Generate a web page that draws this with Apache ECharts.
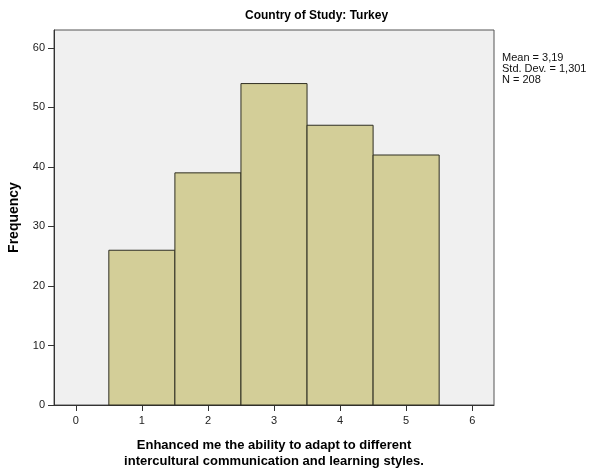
<!DOCTYPE html>
<html>
<head>
<meta charset="utf-8">
<script src="https://cdn.jsdelivr.net/npm/echarts@6/dist/echarts.min.js"></script>
<style>html,body{margin:0;padding:0;background:#fff;}#c{width:590px;height:471px;}</style>
</head>
<body>
<div id="c"></div>
<script>
var categories = [1, 2, 3, 4, 5];
var frequencies = [26, 39, 54, 47, 42];
var xTicks = [0, 1, 2, 3, 4, 5, 6];
var yTicks = [0, 10, 20, 30, 40, 50, 60];
var titleText = 'Country of Study: Turkey';
var statsLines = ['Mean = 3,19', 'Std. Dev. = 1,301', 'N = 208'];
var xName = 'Enhanced me the ability to adapt to different\nintercultural communication and learning styles.';
var yName = 'Frequency';

var data = categories.map(function (c, i) { return [c, frequencies[i]]; });
var font = '"Liberation Sans", Arial, sans-serif';

var chart = echarts.init(document.getElementById('c'));
chart.setOption({
  animation: false,
  backgroundColor: '#ffffff',
  grid: {
    left: 54, top: 30, right: 96, bottom: 66,
    outerBoundsMode: 'none', containLabel: false,
    show: true, backgroundColor: '#f0f0f0', borderColor: '#555555', borderWidth: 1
  },
  xAxis: {
    type: 'value', min: -0.33, max: 6.33,
    name: xName, nameLocation: 'middle', nameGap: 32,
    nameTextStyle: { fontFamily: font, fontSize: 13, fontWeight: 'bold', color: '#000', lineHeight: 16 },
    axisLine: { show: true, onZero: false, lineStyle: { color: '#333', width: 1 } },
    axisTick: { show: true, length: 6, inside: false, customValues: xTicks, lineStyle: { color: '#333' } },
    axisLabel: { customValues: xTicks, fontFamily: font, fontSize: 11, color: '#222', margin: 10 },
    splitLine: { show: false }
  },
  yAxis: {
    type: 'value', min: 0, max: 63,
    name: yName, nameLocation: 'middle', nameGap: 33, nameRotate: 90,
    nameTextStyle: { fontFamily: font, fontSize: 14, fontWeight: 'bold', color: '#000' },
    axisLine: { show: true, onZero: false, lineStyle: { color: '#333', width: 1 } },
    axisTick: { show: true, length: 6, inside: false, customValues: yTicks, lineStyle: { color: '#333' } },
    axisLabel: { customValues: yTicks, fontFamily: font, fontSize: 11, color: '#222', margin: 9 },
    splitLine: { show: false }
  },
  graphic: [
    { type: 'text', left: 245, top: 10, style: { text: titleText, font: 'bold 12px ' + font, fill: '#000' } },
    { type: 'text', left: 502, top: 52, style: { text: statsLines.join('\n'), font: '11px ' + font, fill: '#111', lineHeight: 11 } }
  ],
  series: [{
    type: 'custom',
    data: data,
    renderItem: function (params, api) {
      var x = api.value(0), y = api.value(1);
      var p0 = api.coord([x - 0.5, y]);
      var p1 = api.coord([x + 0.5, 0]);
      return {
        type: 'rect',
        shape: { x: p0[0], y: p0[1], width: p1[0] - p0[0], height: p1[1] - p0[1] },
        style: { fill: '#d3ce98', stroke: '#2e2e22', lineWidth: 1 }
      };
    }
  }]
});
</script>
</body>
</html>
